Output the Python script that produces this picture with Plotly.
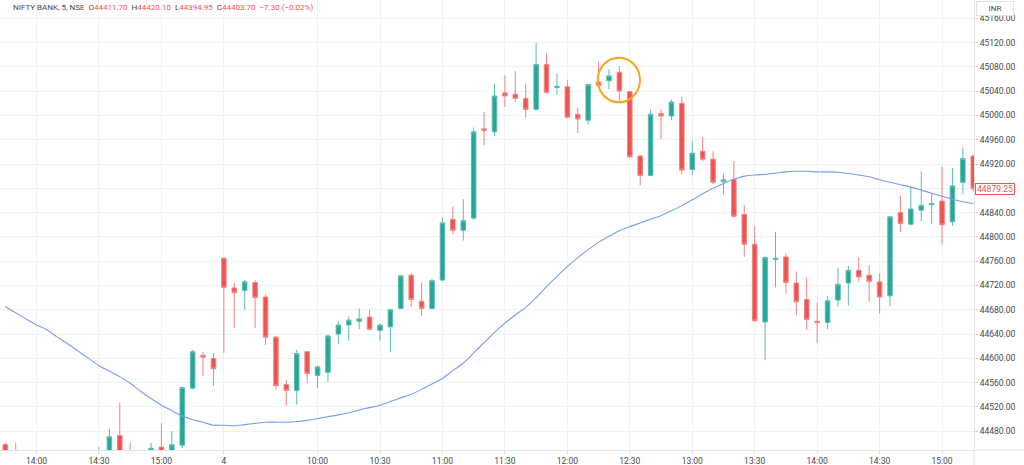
import plotly.graph_objects as go


def session(start, end):
    """Build 5-minute bar labels between two HH:MM times (inclusive)."""
    h, m = start
    out = []
    while (h, m) <= end:
        out.append(f"{h:02d}:{m:02d}")
        m += 5
        if m == 60:
            h, m = h + 1, 0
    return out


# ---------------- categories ----------------
day1_times = session((13, 45), (15, 25))
day2_times = session((9, 15), (15, 15))
categories = ["3 " + t for t in day1_times] + ["4 " + t for t in day2_times]

# ---------------- OHLC ----------------
day1_open = [44458, 44445, 44422, 44432, 44410, 44395, 44412, 44405, 44418, 44425,
             44445, 44473, 44440, 44425, 44435, 44454, 44440, 44457, 44551, 44605, 44600]
day1_high = [44461, 44461, 44440, 44445, 44425, 44418, 44430, 44422, 44440, 44454,
             44484, 44527, 44462, 44445, 44461, 44493, 44480, 44553, 44614, 44611, 44609]
day1_low = [44418, 44412, 44405, 44400, 44385, 44388, 44398, 44392, 44410, 44418,
            44440, 44430, 44415, 44410, 44428, 44430, 44435, 44452, 44549, 44571, 44555]
day1_close = [44430, 44422, 44432, 44410, 44395, 44412, 44405, 44418, 44425, 44445,
              44471, 44440, 44425, 44435, 44452, 44440, 44458, 44552, 44611, 44602, 44583]

day2_open = [44765, 44716, 44712, 44725, 44701, 44635, 44557, 44547, 44611, 44572,
             44577, 44640, 44655, 44661, 44668, 44646, 44652, 44682, 44737, 44694,
             44682, 44729, 44829, 44811, 44831, 44978, 44973, 45037, 45035, 45028,
             45010, 45084, 45046, 45047, 45002, 44992, 45055, 45057, 45071, 45039,
             44933, 44901, 45003, 44999, 45020, 44911, 44941, 44928, 44891, 44895,
             44837, 44788, 44660, 44763, 44767, 44724, 44697, 44661, 44659, 44696,
             44724, 44745, 44737, 44726, 44703, 44840, 44821, 44844, 44853, 44859,
             44825, 44890, 44933]
day2_high = [44766, 44724, 44729, 44729, 44705, 44636, 44564, 44614, 44612, 44589,
             44639, 44661, 44669, 44682, 44680, 44658, 44681, 44737, 44740, 44725,
             44731, 44832, 44850, 44862, 44980, 45006, 45052, 45066, 45073, 45053,
             45119, 45102, 45069, 45058, 45013, 45052, 45088, 45076, 45081, 45040,
             44935, 45010, 45010, 45026, 45031, 44958, 44964, 44941, 44904, 44925,
             44852, 44818, 44768, 44808, 44773, 44743, 44733, 44692, 44703, 44749,
             44752, 44767, 44754, 44740, 44834, 44868, 44883, 44908, 44871, 44916,
             44913, 44947, 44935]
day2_low = [44609, 44650, 44680, 44650, 44622, 44549, 44522, 44524, 44559, 44551,
            44561, 44623, 44629, 44648, 44646, 44629, 44610, 44681, 44685, 44670,
            44681, 44727, 44804, 44794, 44828, 44951, 44966, 45014, 45022, 44996,
            45008, 45036, 45034, 44995, 44971, 44985, 45048, 45043, 45024, 44930,
            44885, 44900, 44961, 44992, 44903, 44902, 44924, 44887, 44870, 44832,
            44767, 44660, 44597, 44717, 44707, 44671, 44647, 44625, 44648, 44685,
            44687, 44726, 44693, 44674, 44686, 44808, 44819, 44826, 44821, 44787,
            44818, 44870, 44875]
day2_close = [44717, 44708, 44726, 44700, 44635, 44555, 44547, 44608, 44575, 44586,
              44637, 44655, 44663, 44665, 44648, 44655, 44680, 44736, 44697, 44682,
              44728, 44823, 44811, 44827, 44973, 44975, 45032, 45032, 45028, 45010,
              45084, 45038, 45048, 44997, 44994, 45051, 45049, 45065, 45040, 44932,
              44901, 45002, 44999, 45022, 44910, 44938, 44928, 44890, 44894, 44834,
              44788, 44662, 44766, 44765, 44725, 44693, 44664, 44659, 44695, 44722,
              44745, 44734, 44727, 44701, 44833, 44822, 44846, 44852, 44855, 44820,
              44884, 44929, 44879.25]

opens = day1_open + day2_open
highs = day1_high + day2_high
lows = day1_low + day2_low
closes = day1_close + day2_close

# ---------------- moving average ----------------
ma_values = [44685.5, 44675, 44665, 44655, 44647, 44635, 44624, 44612, 44600, 44588,
             44579, 44570, 44559, 44546, 44534, 44523, 44514, 44505, 44499, 44495,
             44490, 44490, 44489, 44491, 44493, 44495, 44495, 44495, 44496, 44498,
             44501, 44504, 44507, 44510.5, 44515, 44519, 44523, 44529, 44535, 44541,
             44549, 44558, 44567, 44580, 44592, 44609, 44626, 44643, 44658, 44671.5,
             44684, 44700, 44718, 44735, 44751, 44766, 44779, 44791, 44801, 44810,
             44817, 44823, 44829, 44835, 44843, 44851.5, 44861, 44871, 44880, 44888,
             44895, 44900, 44902, 44903, 44905, 44907, 44908, 44908, 44907, 44907,
             44906.5, 44904.5, 44902, 44899, 44894, 44890, 44886, 44882, 44877, 44872,
             44867, 44862, 44858, 44855]

# ---------------- axis ticks ----------------
tick_cats = ["3 14:00", "3 14:30", "3 15:00", "4 09:15", "4 10:00", "4 10:30",
             "4 11:00", "4 11:30", "4 12:00", "4 12:30", "4 13:00", "4 13:30",
             "4 14:00", "4 14:30", "4 15:00"]
tick_text = ["14:00", "14:30", "15:00", "4", "10:00", "10:30", "11:00", "11:30",
             "12:00", "12:30", "13:00", "13:30", "14:00", "14:30", "15:00"]
# price labels shown on the right scale (44880 is hidden behind the last-price tag)
price_ticks = [44480, 44520, 44560, 44600, 44640, 44680, 44720, 44760, 44800, 44840,
               44920, 44960, 45000, 45040, 45080, 45120, 45160]

last_price = 44879.25
header_parts = ["NIFTY BANK, 5, NSE", "44411.70", "44420.10", "44394.95", "44403.70",
                "\u22127.30 (\u22120.02%)"]

UP = "#26a69a"
DOWN = "#ef5350"
UP_LINE = "#5dbdb2"
DOWN_LINE = "#f38482"
GRID = "#f0f2f6"
AXIS = "#e0e3eb"
TXT = "#4a4a4a"
FONT = "Roboto, Arial, sans-serif"
FS = 8.5

W, H = 1024, 465
ML, MR, MT, MB = 0, 50, 0, 15
PW, PH = W - ML - MR, H - MT - MB

fig = go.Figure()
fig.add_trace(go.Candlestick(
    x=categories, open=opens, high=highs, low=lows, close=closes,
    increasing=dict(line=dict(color=UP_LINE, width=1), fillcolor=UP),
    decreasing=dict(line=dict(color=DOWN_LINE, width=1), fillcolor=DOWN),
    whiskerwidth=0, showlegend=False, hoverinfo="skip"))
fig.add_trace(go.Scatter(
    x=categories, y=ma_values, mode="lines",
    line=dict(color="#7a9cf6", width=1.1, shape="spline", smoothing=0.8),
    showlegend=False, hoverinfo="skip"))

sp = "\u00a0"
header = (f'<span style="color:{TXT}">{header_parts[0]}{sp}{sp}O</span>'
          f'<span style="color:{DOWN}">{header_parts[1]}</span>'
          f'<span style="color:{TXT}">{sp}{sp}H</span>'
          f'<span style="color:{DOWN}">{header_parts[2]}</span>'
          f'<span style="color:{TXT}">{sp}{sp}L</span>'
          f'<span style="color:{DOWN}">{header_parts[3]}</span>'
          f'<span style="color:{TXT}">{sp}{sp}C</span>'
          f'<span style="color:{DOWN}">{header_parts[4]}{sp}{sp}{header_parts[5]}</span>')

fig.update_layout(
    width=W, height=H, autosize=False,
    margin=dict(l=ML, r=MR, t=MT, b=MB, pad=0),
    paper_bgcolor="white", plot_bgcolor="white",
    boxgap=0.38,
    font=dict(family=FONT, size=FS, color=TXT),
    xaxis=dict(
        type="category", categoryorder="array", categoryarray=categories,
        range=[-0.509, 93.07], rangeslider=dict(visible=False),
        tickvals=tick_cats, ticktext=tick_text, tickangle=0,
        showgrid=True, gridcolor=GRID, gridwidth=1,
        showline=True, linecolor=AXIS, linewidth=1,
        ticks="outside", ticklen=3, tickcolor=AXIS,
        tickfont=dict(family=FONT, size=FS, color=TXT), fixedrange=True),
    yaxis=dict(
        side="right", range=[44449.2, 45190],
        tickvals=price_ticks, ticktext=[f"{v:.2f}" for v in price_ticks],
        showgrid=True, gridcolor=GRID, gridwidth=1,
        minor=dict(tick0=44480, dtick=40, showgrid=True, gridcolor=GRID, ticks=""),
        zeroline=False, showline=True, linecolor=AXIS, linewidth=1,
        ticks="outside", ticklen=3, tickcolor="#c8cbd2",
        tickfont=dict(family=FONT, size=FS, color=TXT), fixedrange=True),
    annotations=[
        dict(xref="paper", yref="paper", x=11 / PW, y=1 - 7.5 / PH,
             xanchor="left", yanchor="middle", showarrow=False, text=header,
             font=dict(family=FONT, size=8, color=TXT)),
        dict(xref="paper", yref="paper", x=995 / PW, y=1 - 8 / PH,
             xanchor="center", yanchor="middle", showarrow=False, text="INR",
             width=34, height=11, bgcolor="white", bordercolor=AXIS, borderwidth=1,
             borderpad=1, font=dict(family=FONT, size=8, color=TXT)),
        dict(xref="paper", yref="y", x=975 / PW, y=last_price,
             xanchor="left", yanchor="middle", showarrow=False,
             text=f"{last_price:.2f}", width=38, height=10, bgcolor="white",
             bordercolor=DOWN, borderwidth=1, borderpad=0,
             font=dict(family=FONT, size=FS, color=DOWN)),
    ],
    shapes=[
        dict(type="circle", xref="x", yref="y", x0=56.92, x1=60.98,
             y0=45021.6, y1=45095, line=dict(color="#f5a623", width=2)),
        dict(type="line", xref="paper", yref="paper", x0=1, x1=W / PW,
             y0=0, y1=0, line=dict(color=AXIS, width=1)),
        dict(type="line", xref="paper", yref="paper", x0=1, x1=1,
             y0=0, y1=-MB / PH, line=dict(color=AXIS, width=1)),
    ],
)

fig.write_html("out.html", config=dict(displayModeBar=False, staticPlot=True))
